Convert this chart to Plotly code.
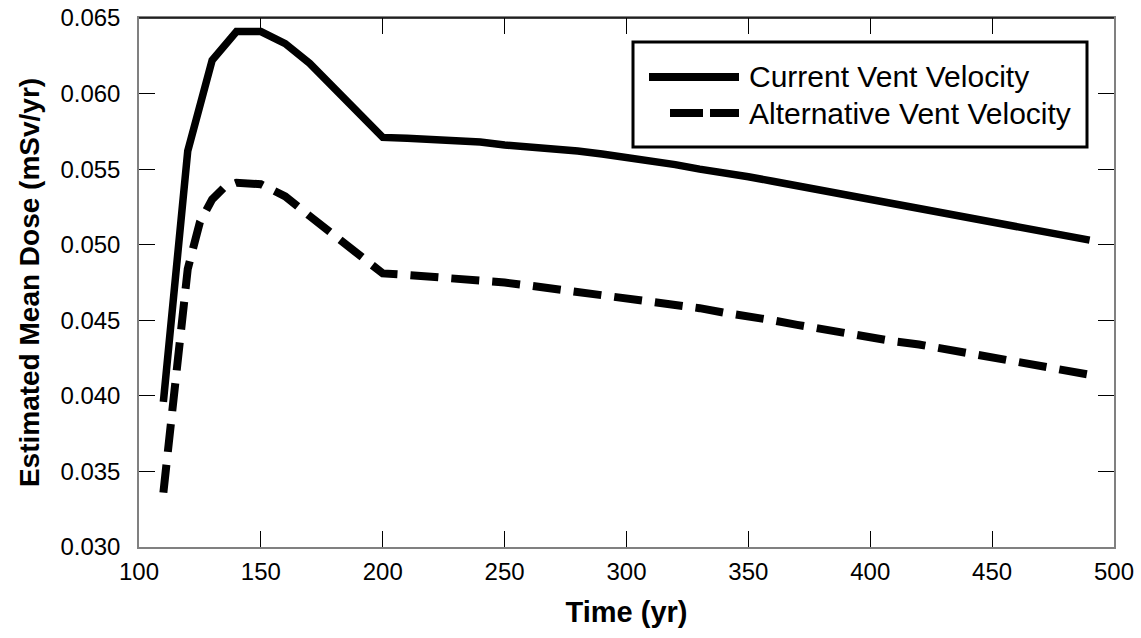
import plotly.graph_objects as go

# ---- data ----
time_current = [110, 120, 130, 140, 150, 160, 170, 180, 190, 200,
                210, 220, 230, 240, 250, 260, 270, 280, 290, 300,
                310, 320, 330, 340, 350, 360, 370, 380, 390, 400,
                410, 420, 430, 440, 450, 460, 470, 480, 490]
dose_current = [0.0396, 0.0562, 0.0622, 0.0641, 0.0641, 0.0633, 0.0620, 0.0604, 0.0588, 0.0571,
                0.05705, 0.0570, 0.0569, 0.0568, 0.0566, 0.0565, 0.0563, 0.0562, 0.0560, 0.0558,
                0.0556, 0.0553, 0.0550, 0.0548, 0.0545, 0.0542, 0.0539, 0.0536, 0.0533, 0.0530,
                0.0527, 0.0524, 0.0521, 0.0518, 0.0515, 0.0512, 0.0509, 0.0506, 0.0503]

time_alt = [110, 115, 120, 125, 130, 135, 140, 150, 160, 170, 180, 190, 200,
            210, 220, 230, 240, 250, 260, 270, 280, 290, 300,
            310, 320, 330, 340, 350, 360, 370, 380, 390, 400,
            410, 420, 430, 440, 450, 460, 470, 480, 490]
dose_alt = [0.0336, 0.0415, 0.0484, 0.0515, 0.0530, 0.0538, 0.0541, 0.0540, 0.0532, 0.0519, 0.0506, 0.0493, 0.0481,
            0.0480, 0.0479, 0.0477, 0.0476, 0.0475, 0.0473, 0.0471, 0.0469, 0.0467, 0.0465,
            0.0463, 0.0460, 0.0458, 0.0455, 0.0453, 0.0450, 0.0447, 0.0444, 0.0441, 0.0439,
            0.0436, 0.0434, 0.0431, 0.0428, 0.0425, 0.0422, 0.0420, 0.0417, 0.0414]

series_names = ["Current Vent Velocity", "Alternative Vent Velocity"]
x_ticks = [100, 150, 200, 250, 300, 350, 400, 450, 500]
y_ticks = [0.030, 0.035, 0.040, 0.045, 0.050, 0.055, 0.060, 0.065]
y_tick_labels = ["0.030", "0.035", "0.040", "0.045", "0.050", "0.055", "0.060", "0.065"]

# ---- layout geometry ----
W, H = 1141, 638
ML, MR, MT, MB = 139, 27, 18, 91
PW, PH = W - ML - MR, H - MT - MB
FONT = "Liberation Sans, Arial, sans-serif"


def px(x):
    return (x - ML) / PW


def py(y):
    return (H - MB - y) / PH


fig = go.Figure()
fig.add_trace(go.Scatter(x=time_current, y=dose_current, mode="lines",
                         name=series_names[0], showlegend=False,
                         line=dict(color="black", width=7.5)))
fig.add_trace(go.Scatter(x=time_alt, y=dose_alt, mode="lines",
                         name=series_names[1], showlegend=False,
                         line=dict(color="black", width=8, dash="28px,13px")))

axis_common = dict(showgrid=False, zeroline=False, showline=True,
                   linecolor="#808080", linewidth=1.5, mirror="ticks",
                   ticks="inside", ticklen=16, tickwidth=1, tickcolor="black",
                   tickfont=dict(family=FONT, size=24, color="black"))

fig.update_xaxes(range=[100, 500], tickvals=x_ticks, ticklabelstandoff=2,
                 title=dict(text="<b>Time (yr)</b>", standoff=18,
                            font=dict(family=FONT, size=29, color="black")),
                 **axis_common)
fig.update_yaxes(range=[0.030, 0.065], tickvals=y_ticks, ticktext=y_tick_labels,
                 ticklabelstandoff=12,
                 title=dict(text="<b>Estimated Mean Dose (mSv/yr)</b>", standoff=13,
                            font=dict(family=FONT, size=28, color="black")),
                 **axis_common)

shapes = [
    # top frame line (black)
    dict(type="line", xref="paper", yref="paper", x0=0, x1=1, y0=1, y1=1,
         line=dict(color="black", width=1.5)),
    # legend box
    dict(type="rect", xref="paper", yref="paper",
         x0=px(633), x1=px(1087), y0=py(147), y1=py(42),
         line=dict(color="black", width=3), fillcolor="white", layer="above"),
    # legend samples
    dict(type="line", xref="paper", yref="paper", x0=px(649), x1=px(739),
         y0=py(77), y1=py(77), line=dict(color="black", width=8), layer="above"),
    dict(type="line", xref="paper", yref="paper", x0=px(670), x1=px(739),
         y0=py(113), y1=py(113), line=dict(color="black", width=8, dash="33px,7px"),
         layer="above"),
]

annotations = [
    dict(text=series_names[0], xref="paper", yref="paper", x=px(747), y=py(77),
         xanchor="left", yanchor="middle", showarrow=False,
         font=dict(family=FONT, size=30, color="black")),
    dict(text=series_names[1], xref="paper", yref="paper", x=px(747), y=py(113),
         xanchor="left", yanchor="middle", showarrow=False,
         font=dict(family=FONT, size=30, color="black")),
]

fig.update_layout(width=W, height=H,
                  margin=dict(l=ML, r=MR, t=MT, b=MB, autoexpand=False),
                  paper_bgcolor="white", plot_bgcolor="white",
                  shapes=shapes, annotations=annotations,
                  font=dict(family=FONT, color="black"))

fig.write_html("out.html")
